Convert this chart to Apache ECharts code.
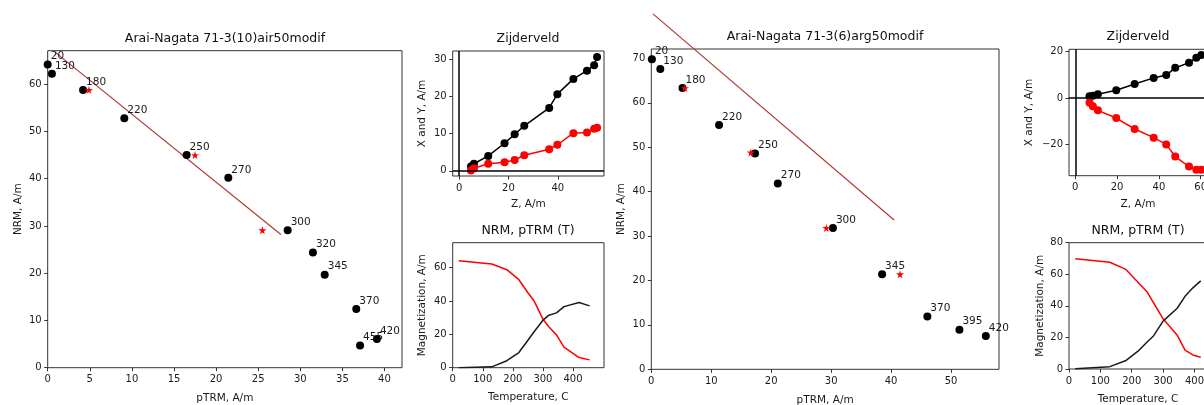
<!DOCTYPE html>
<html><head><meta charset="utf-8">
<script src="https://cdn.jsdelivr.net/npm/echarts@6/dist/echarts.min.js"></script>
<style>html,body{margin:0;padding:0;background:#fff}#c{width:1204px;height:405px}</style>
</head><body><div id="c"></div>
<script>
// ---------- Sample 1: 71-3(10)air50modif ----------
const temps1 = [20, 130, 180, 220, 250, 270, 300, 320, 345, 370, 420, 455];
const ptrm1  = [0, 0.5, 4.2, 9.1, 16.5, 21.45, 28.5, 31.5, 32.9, 36.65, 39.1, 37.1];
const nrm1   = [64.2, 62.2, 58.8, 52.8, 45.0, 40.2, 29.1, 24.4, 19.7, 12.4, 6.1, 4.7];
const checkPtrm1 = [4.9, 17.5, 25.5];
const checkNrm1  = [58.8, 45.0, 29.1];
const fitX1 = [0.87, 27.7];
const fitY1 = [66.8, 28.2];
const zijZ1 = [4.8, 6.0, 11.8, 18.4, 22.5, 26.4, 36.5, 39.8, 46.3, 51.8, 54.7, 55.9];
const zijX1 = [1.15, 1.9, 4.0, 7.4, 9.8, 12.1, 16.9, 20.6, 24.7, 26.9, 28.4, 30.6];
const zijY1 = [0.1, 0.7, 1.9, 2.3, 2.9, 4.2, 5.8, 7.0, 10.1, 10.3, 11.3, 11.6];

// ---------- Sample 2: 71-3(6)arg50modif ----------
const temps2 = [20, 130, 180, 220, 250, 270, 300, 345, 370, 395, 420];
const ptrm2  = [0.1, 1.5, 5.2, 11.3, 17.3, 21.1, 30.3, 38.5, 46.05, 51.4, 55.8];
const nrm2   = [69.8, 67.6, 63.3, 55.0, 48.6, 41.8, 31.8, 21.4, 11.9, 8.9, 7.5];
const checkPtrm2 = [5.6, 16.6, 29.2, 41.5];
const checkNrm2  = [63.3, 48.8, 31.8, 21.4];
const fitX2 = [0.28, 40.5];
const fitY2 = [80.0, 33.6];
const zijZ2 = [6.8, 8.4, 10.8, 19.6, 28.4, 37.5, 43.5, 47.8, 54.4, 57.9, 60.3];
const zijX2 = [0.7, 1.0, 1.6, 3.3, 6.0, 8.6, 9.8, 12.9, 15.1, 17.2, 18.4];
const zijY2 = [-2.0, -3.6, -5.3, -8.6, -13.3, -17.0, -19.9, -25.1, -29.4, -30.7, -30.7];

// ---------- Tick labels ----------
const araiXTicks1 = [0, 5, 10, 15, 20, 25, 30, 35, 40];
const araiYTicks1 = [0, 10, 20, 30, 40, 50, 60];
const zijXTicks1 = [0, 20, 40];
const zijYTicks1 = [0, 10, 20, 30];
const tXTicks1 = [0, 100, 200, 300, 400];
const tYTicks1 = [0, 20, 40, 60];
const araiXTicks2 = [0, 10, 20, 30, 40, 50];
const araiYTicks2 = [0, 10, 20, 30, 40, 50, 60, 70];
const zijXTicks2 = [0, 20, 40, 60];
const zijYTicks2 = [-20, 0, 20];
const tXTicks2 = [0, 100, 200, 300, 400];
const tYTicks2 = [0, 20, 40, 60, 80];

const FONT = 'DejaVu Sans';
const TXT = '#1a1a1a';
const STAR = 'path://M50,0 L61,35 L98,35 L68,57 L79,91 L50,70 L21,91 L32,57 L2,35 L39,35 Z';

function mkAxis(gridIndex, min, max, ticks, name, nameGap, isY) {
  return {
    type: 'value', gridIndex, min, max,
    splitLine: {show: false},
    axisLine: {show: false, onZero: false},
    axisTick: {show: true, length: 3.5, inside: false, customValues: ticks,
               lineStyle: {color: '#333', width: 1}},
    axisLabel: {show: true, customValues: ticks, color: TXT, fontFamily: FONT, fontSize: 10,
                margin: isY ? 6 : 7, formatter: v => String(v).replace('-', '\u2212')},
    name, nameLocation: 'middle', nameGap,
    nameTextStyle: {fontFamily: FONT, fontSize: 10.5, color: TXT}
  };
}

const grids = [
  {left: 47.7, top: 50.7, width: 354.3, height: 317},
  {left: 452.7, top: 51, width: 151.3, height: 125},
  {left: 452.7, top: 242.7, width: 151.3, height: 125},
  {left: 651.3, top: 49, width: 347.7, height: 320.3},
  {left: 1069, top: 49.3, width: 138, height: 126.4},
  {left: 1069, top: 242.7, width: 138, height: 126.3}
].map(g => Object.assign(g, {show: true, borderColor: '#333', borderWidth: 1,
  backgroundColor: 'transparent', containLabel: false, outerBoundsMode: 'none'}));

const xAxes = [
  mkAxis(0, 0, 42.08, araiXTicks1, 'pTRM, A/m', 25, false),
  mkAxis(1, -2.6, 58.7, zijXTicks1, 'Z, A/m', 23, false),
  mkAxis(2, 0, 503, tXTicks1, 'Temperature, C', 24, false),
  mkAxis(3, 0, 58, araiXTicks2, 'pTRM, A/m', 25, false),
  mkAxis(4, -3.0, 63.0, zijXTicks2, 'Z, A/m', 23, false),
  mkAxis(5, 0, 440, tXTicks2, 'Temperature, C', 25, false)
];
const yAxes = [
  mkAxis(0, 0, 67.1, araiYTicks1, 'NRM, A/m', 24, true),
  mkAxis(1, -1.4, 32.2, zijYTicks1, 'X and Y, A/m', 25, true),
  mkAxis(2, 0, 75, tYTicks1, 'Magnetization, A/m', 25, true),
  mkAxis(3, 0, 72.1, araiYTicks2, 'NRM, A/m', 25, true),
  mkAxis(4, -33.3, 20.85, zijYTicks2, 'X and Y, A/m', 34, true),
  mkAxis(5, 0, 80, tYTicks2, 'Magnetization, A/m', 23, true)
];

function araiSeries(ai, ptrm, nrm, temps) {
  return {
    type: 'scatter', xAxisIndex: ai, yAxisIndex: ai, symbol: 'circle', symbolSize: 8,
    itemStyle: {color: '#000', opacity: 1}, z: 3,
    data: ptrm.map((x, i) => [x, nrm[i], temps[i]]),
    label: {show: true, position: 'right', distance: 0, offset: [-1, -8],
            formatter: p => String(p.value[2]), fontFamily: FONT, fontSize: 10.5, color: TXT}
  };
}
function starSeries(ai, xs, ys) {
  return {type: 'scatter', xAxisIndex: ai, yAxisIndex: ai, symbol: STAR, symbolSize: 8,
          itemStyle: {color: '#ff0000', opacity: 1}, z: 4, data: xs.map((x, i) => [x, ys[i]])};
}
function fitSeries(ai, xs, ys) {
  return {type: 'line', xAxisIndex: ai, yAxisIndex: ai, showSymbol: false, clip: false,
          lineStyle: {color: '#b03a32', width: 1.2}, z: 2, data: xs.map((x, i) => [x, ys[i]])};
}
function zijSeries(ai, zs, vs, color, withZero) {
  const s = {type: 'line', xAxisIndex: ai, yAxisIndex: ai, symbol: 'circle', symbolSize: 8,
    showSymbol: true, itemStyle: {color, opacity: 1}, lineStyle: {color, width: 1.5}, z: 3,
    data: zs.map((z, i) => [z, vs[i]])};
  if (withZero) {
    s.markLine = {silent: true, symbol: 'none', label: {show: false}, animation: false,
      lineStyle: {color: '#000', width: 1.5, type: 'solid'},
      emphasis: {disabled: true},
      data: [{xAxis: 0}, {yAxis: 0}]};
  }
  return s;
}
function tSeries(ai, temps, vals, color) {
  return {type: 'line', xAxisIndex: ai, yAxisIndex: ai, showSymbol: false,
          lineStyle: {color, width: 1.5}, data: temps.map((t, i) => [t, vals[i]])};
}

const series = [
  fitSeries(0, fitX1, fitY1),
  araiSeries(0, ptrm1, nrm1, temps1),
  starSeries(0, checkPtrm1, checkNrm1),
  zijSeries(1, zijZ1, zijX1, '#000', true),
  zijSeries(1, zijZ1, zijY1, '#ff0000', false),
  tSeries(2, temps1, nrm1, '#ff0000'),
  tSeries(2, temps1, ptrm1, '#1a1a1a'),
  fitSeries(3, fitX2, fitY2),
  araiSeries(3, ptrm2, nrm2, temps2),
  starSeries(3, checkPtrm2, checkNrm2),
  zijSeries(4, zijZ2, zijX2, '#000', true),
  zijSeries(4, zijZ2, zijY2, '#ff0000', false),
  tSeries(5, temps2, nrm2, '#ff0000'),
  tSeries(5, temps2, ptrm2, '#1a1a1a')
];

function title(text, x, y) {
  return {type: 'text', x, y, silent: true,
          style: {text, textAlign: 'center', textVerticalAlign: 'middle',
                  font: '12.5px "DejaVu Sans"', fill: '#111'}};
}

const chart = echarts.init(document.getElementById('c'), null, {renderer: 'canvas'});
chart.setOption({
  animation: false,
  backgroundColor: '#fff',
  textStyle: {fontFamily: FONT},
  grid: grids, xAxis: xAxes, yAxis: yAxes, series,
  graphic: {elements: [
    title('Arai-Nagata 71-3(10)air50modif', 225, 39),
    title('Zijderveld', 528, 39),
    title('NRM, pTRM (T)', 528, 231),
    title('Arai-Nagata 71-3(6)arg50modif', 825, 37),
    title('Zijderveld', 1138, 37),
    title('NRM, pTRM (T)', 1138, 231)
  ]}
});
</script></body></html>
